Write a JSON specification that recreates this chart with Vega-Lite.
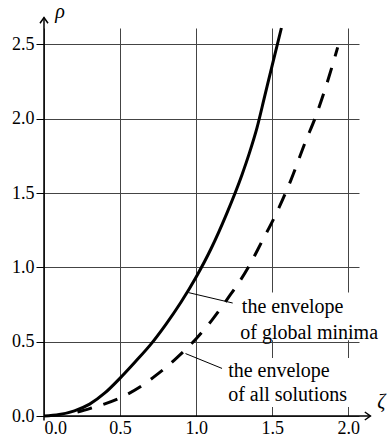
{
  "$schema": "https://vega.github.io/schema/vega-lite/v6.json",
  "autosize": {"type": "none"},
  "padding": {"left": 44, "top": 28, "right": 32, "bottom": 25},
  "width": 315,
  "height": 388,
  "background": "white",
  "config": {
    "view": {"stroke": null},
    "axis": {"gridColor": "#444", "gridOpacity": 1, "gridWidth": 1, "domain": false}
  },
  "datasets": {
    "solid": [
      {"zeta": 0, "rho": 0}, {"zeta": 0.1, "rho": 0.01}, {"zeta": 0.2, "rho": 0.035}, {"zeta": 0.3, "rho": 0.08},
      {"zeta": 0.4, "rho": 0.155}, {"zeta": 0.5, "rho": 0.255}, {"zeta": 0.6, "rho": 0.365}, {"zeta": 0.7, "rho": 0.48},
      {"zeta": 0.8, "rho": 0.615}, {"zeta": 0.9, "rho": 0.765}, {"zeta": 1.0, "rho": 0.935}, {"zeta": 1.1, "rho": 1.13},
      {"zeta": 1.2, "rho": 1.36}, {"zeta": 1.3, "rho": 1.62}, {"zeta": 1.35, "rho": 1.77}, {"zeta": 1.4, "rho": 1.94},
      {"zeta": 1.45, "rho": 2.15}, {"zeta": 1.5, "rho": 2.36}, {"zeta": 1.56, "rho": 2.61}
    ],
    "dashed": [
      {"zeta": 0.22, "rho": 0.027}, {"zeta": 0.3, "rho": 0.05}, {"zeta": 0.4, "rho": 0.082}, {"zeta": 0.5, "rho": 0.122},
      {"zeta": 0.63, "rho": 0.195}, {"zeta": 0.75, "rho": 0.285}, {"zeta": 0.86, "rho": 0.38}, {"zeta": 1.0, "rho": 0.52},
      {"zeta": 1.1, "rho": 0.64}, {"zeta": 1.2, "rho": 0.78}, {"zeta": 1.34, "rho": 0.995}, {"zeta": 1.43, "rho": 1.17},
      {"zeta": 1.53, "rho": 1.37}, {"zeta": 1.62, "rho": 1.58}, {"zeta": 1.72, "rho": 1.85}, {"zeta": 1.78, "rho": 2.0},
      {"zeta": 1.86, "rho": 2.24}, {"zeta": 1.93, "rho": 2.48}
    ],
    "boxes": [
      {"x1": 1.26, "x2": 2.1, "y1": 0.51, "y2": 0.83},
      {"x1": 1.19, "x2": 2.1, "y1": 0.06, "y2": 0.39}
    ],
    "leaders": [
      {"x1": 0.95, "y1": 0.83, "x2": 1.24, "y2": 0.76},
      {"x1": 0.93, "y1": 0.42, "x2": 1.17, "y2": 0.32}
    ],
    "axes": [
      {"x1": 0, "y1": -0.03, "x2": 0, "y2": 2.68},
      {"x1": 0, "y1": 0, "x2": 2.145, "y2": 0}
    ],
    "labels": [
      {"zeta": 1.3, "rho": 0.73, "text": "the envelope"},
      {"zeta": 1.29, "rho": 0.56, "text": "of global minima"},
      {"zeta": 1.21, "rho": 0.3, "text": "the envelope"},
      {"zeta": 1.21, "rho": 0.14, "text": "of all solutions"}
    ],
    "symbols": [
      {"zeta": 0.105, "rho": 2.72, "text": "ρ"},
      {"zeta": 2.217, "rho": 0.094, "text": "ζ"}
    ]
  },
  "encoding": {
    "x": {"field": "zeta", "type": "quantitative", "scale": {"domain": [0, 2.07], "nice": false, "zero": false},
      "axis": {"title": null, "values": [0, 0.5, 1, 1.5, 2], "format": ".1f", "ticks": false, "labelPadding": 3, "labelFont": "Times New Roman", "labelFontSize": 18, "labelColor": "black"}},
    "y": {"field": "rho", "type": "quantitative", "scale": {"domain": [0, 2.61], "nice": false, "zero": false},
      "axis": {"title": null, "values": [0, 0.5, 1, 1.5, 2, 2.5], "format": ".1f", "ticks": true, "tickSize": 8, "tickColor": "black", "labelPadding": 2, "labelFont": "Times New Roman", "labelFontSize": 18, "labelColor": "black"}}
  },
  "layer": [
    {
      "data": {"name": "boxes"},
      "mark": {"type": "rect", "fill": "white"},
      "encoding": {
        "x": {"field": "x1", "type": "quantitative"},
        "x2": {"field": "x2"},
        "y": {"field": "y1", "type": "quantitative"},
        "y2": {"field": "y2"}
      }
    },
    {
      "data": {"name": "axes"},
      "mark": {"type": "rule", "color": "black", "strokeWidth": 1.5},
      "encoding": {
        "x": {"field": "x1", "type": "quantitative"},
        "x2": {"field": "x2"},
        "y": {"field": "y1", "type": "quantitative"},
        "y2": {"field": "y2"}
      }
    },
    {
      "data": {"values": [{"zeta": 0, "rho": 2.68}]},
      "mark": {"type": "point", "shape": "M-1,1.4L0,0L1,1.4", "size": 64, "filled": false, "stroke": "black", "strokeWidth": 1.5, "opacity": 1}
    },
    {
      "data": {"values": [{"zeta": 2.145, "rho": 0}]},
      "mark": {"type": "point", "shape": "M-1.4,-1L0,0L-1.4,1", "size": 64, "filled": false, "stroke": "black", "strokeWidth": 1.5, "opacity": 1}
    },
    {
      "data": {"name": "solid"},
      "mark": {"type": "line", "color": "black", "strokeWidth": 3, "interpolate": "monotone"}
    },
    {
      "data": {"name": "dashed"},
      "mark": {"type": "line", "color": "black", "strokeWidth": 3, "strokeDash": [15, 12], "interpolate": "monotone"}
    },
    {
      "data": {"name": "leaders"},
      "mark": {"type": "rule", "color": "black", "strokeWidth": 1},
      "encoding": {
        "x": {"field": "x1", "type": "quantitative"},
        "x2": {"field": "x2"},
        "y": {"field": "y1", "type": "quantitative"},
        "y2": {"field": "y2"}
      }
    },
    {
      "data": {"name": "labels"},
      "mark": {"type": "text", "font": "Times New Roman", "fontSize": 20, "align": "left", "baseline": "middle", "color": "black"},
      "encoding": {"text": {"field": "text"}}
    },
    {
      "data": {"name": "symbols"},
      "mark": {"type": "text", "font": "Times New Roman", "fontSize": 20, "fontStyle": "italic", "align": "center", "baseline": "middle", "color": "black"},
      "encoding": {"text": {"field": "text"}}
    }
  ]
}
